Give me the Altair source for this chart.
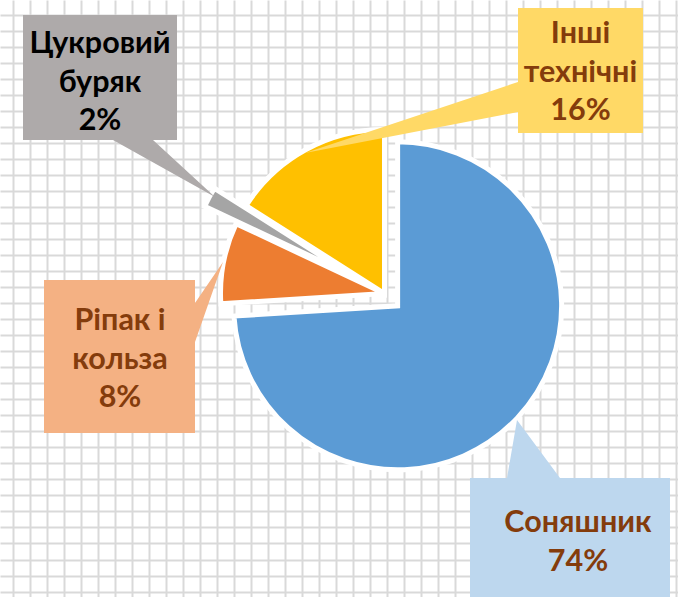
import math
import altair as alt
import pandas as pd

# ---- data ----
crops = ["Соняшник", "Ріпак і кольза", "Цукровий буряк", "Інші технічні"]
label_lines = ["Соняшник", "Ріпак і\nкольза", "Цукровий\nбуряк", "Інші\nтехнічні"]
shares = [74, 8, 2, 16]

# ---- styles ----
slice_colors = ["#5B9BD5", "#ED7D31", "#A5A5A5", "#FFC000"]
box_colors = ["#BDD7EE", "#F4B183", "#AEAAAA", "#FFD966"]
text_colors = ["#843C0C", "#843C0C", "#000000", "#843C0C"]

# ---- layout ----
W, H = 678, 597
CX, CY, R = 384.5, 293.5, 164
explode = [18, 0, 36, 0]

callout_paths = [
    "M470,478L507,478L517,420L560,478L670,478L670,600L470,600Z",
    "M44,280L195,280L195,303L223,262L195,342L195,433L44,433Z",
    "M23,15L177,15L177,140L153,140L215,197L113,140L23,140Z",
    "M518,8L643,8L643,133L518,133L518,112L305,153L518,82Z",
]
text_pos = [(578, 532), (120, 330), (100, 53), (580.5, 43)]

grid_x = [12.7 + 17 * k for k in range(40) if 12.7 + 17 * k < W]
grid_y = [14.5 + 16.03 * k for k in range(40) if 14.5 + 16.03 * k < H]

df = pd.DataFrame({"idx": list(range(len(crops))), "crop": crops,
                   "label": label_lines, "share": shares})

explode_expr = "[" + ",".join(str(e) for e in explode) + "][datum.idx]"

base = (
    alt.Chart(df)
    .transform_window(end="sum(share)", sort=[alt.SortField("idx")], frame=[None, 0])
    .transform_calculate(
        start="datum.end - datum.share",
        mid="PI * (2 * datum.end - datum.share) / 100",
        ex=explode_expr,
    )
    .transform_calculate(
        cx=f"{CX} + datum.ex * sin(datum.mid)",
        cy=f"{CY} - datum.ex * cos(datum.mid)",
    )
)

grid_axis_common = dict(grid=True, gridColor="#D9D9D9", gridWidth=2,
                        labels=False, ticks=False, domain=False, title=None)

pie = base.mark_arc(radius=R, stroke="white", strokeWidth=5).encode(
    theta=alt.Theta("start:Q", stack=None,
                    scale=alt.Scale(domain=[0, 100], range=[0, 2 * math.pi])),
    theta2="end:Q",
    x=alt.X("cx:Q", scale=alt.Scale(domain=[0, W], nice=False, zero=False),
            axis=alt.Axis(values=grid_x, **grid_axis_common)),
    y=alt.Y("cy:Q", scale=alt.Scale(domain=[0, H], nice=False, zero=False, reverse=True),
            axis=alt.Axis(values=grid_y, **grid_axis_common)),
    color=alt.Color("crop:N", scale=alt.Scale(domain=crops, range=slice_colors), legend=None),
)

callouts = base.mark_point(size=4, filled=True, opacity=1, strokeWidth=0).encode(
    x=alt.value(0),
    y=alt.value(0),
    shape=alt.Shape("crop:N", scale=alt.Scale(domain=crops, range=callout_paths), legend=None),
    fill=alt.Fill("crop:N", scale=alt.Scale(domain=crops, range=box_colors), legend=None),
)

text_layers = []
for i, (tx, ty) in enumerate(text_pos):
    t = (
        base.transform_filter(f"datum.idx == {i}")
        .transform_calculate(txt="datum.label + '\\n' + datum.share + '%'")
        .mark_text(font="Lato", fontSize=30.5, fontWeight="bold", lineBreak="\n",
                   lineHeight=38.5, baseline="alphabetic", align="center",
                   color=text_colors[i])
        .encode(x=alt.value(tx), y=alt.value(ty), text="txt:N")
    )
    text_layers.append(t)

chart = (
    alt.layer(pie, callouts, *text_layers)
    .properties(width=W, height=H, autosize=alt.AutoSizeParams(type="none"), padding=0,
                background="white")
    .configure_view(stroke=None)
)

chart.save("out.html", embed_options={"renderer": "svg", "actions": False})
